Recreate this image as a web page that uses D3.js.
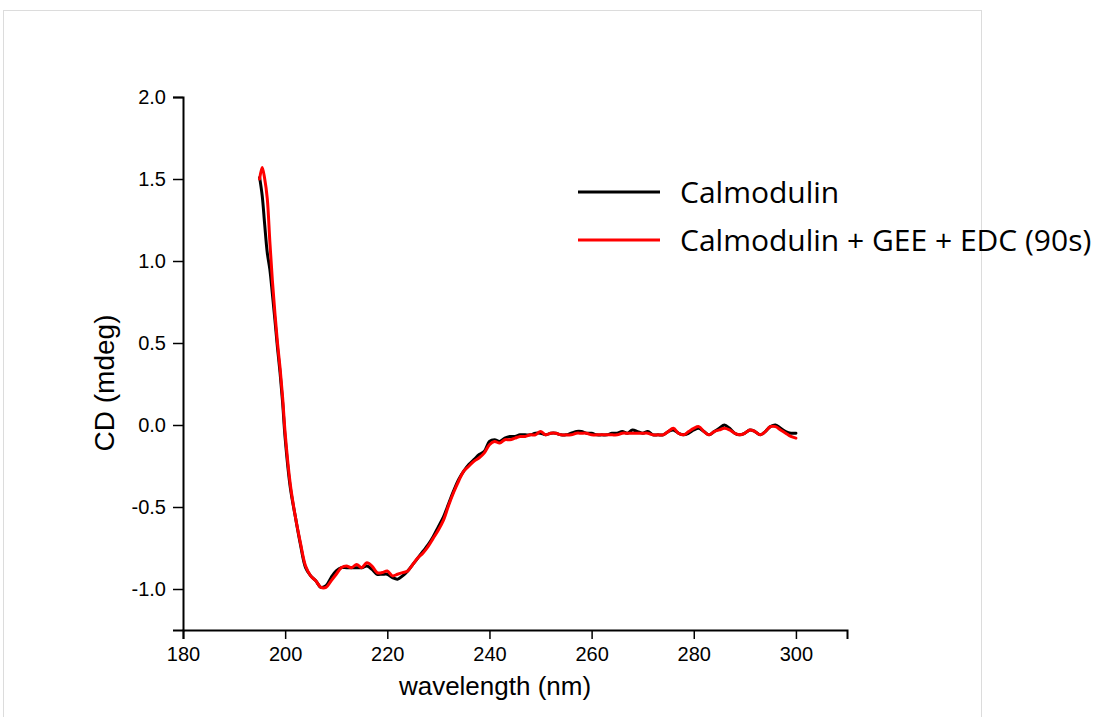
<!DOCTYPE html>
<html>
<head>
<meta charset="utf-8">
<script src="https://cdn.jsdelivr.net/npm/d3@7"></script>
<style>
  html, body { margin: 0; padding: 0; background: #fff; }
  svg { display: block; }
</style>
</head>
<body>
<svg id="chart" width="1094" height="717"></svg>
<script>
// CD spectra of calmodulin, with and without GEE + EDC treatment (90 s)
const wavelength = [
  195, 195.5, 196, 196.5, 197, 197.5, 198, 198.5, 199, 199.5,
  200, 201, 202, 203, 204, 205, 206, 207, 208, 209,
  210, 211, 212, 213, 214, 215, 216, 217, 218, 219,
  220, 221, 222, 223, 224, 225, 226, 227, 228, 229,
  230, 231, 232, 233, 234, 235, 236, 237, 238, 239,
  240, 241, 242, 243, 244, 245, 246, 247, 248, 249,
  250, 251, 252, 253, 254, 255, 256, 257, 258, 259,
  260, 261, 262, 263, 264, 265, 266, 267, 268, 269,
  270, 271, 272, 273, 274, 275, 276, 277, 278, 279,
  280, 281, 282, 283, 284, 285, 286, 287, 288, 289,
  290, 291, 292, 293, 294, 295, 296, 297, 298, 299, 300
];

const calmodulin = [
  1.51, 1.40, 1.22, 1.05, 0.95, 0.80, 0.64, 0.47, 0.32, 0.14,
  -0.08, -0.38, -0.56, -0.73, -0.87, -0.92, -0.95, -0.99, -0.98, -0.93,
  -0.89, -0.87, -0.87, -0.87, -0.87, -0.87, -0.86, -0.88, -0.91, -0.91,
  -0.91, -0.93, -0.94, -0.92, -0.89, -0.85, -0.81, -0.77, -0.73, -0.68,
  -0.62, -0.56, -0.48, -0.40, -0.33, -0.28, -0.24, -0.21, -0.18, -0.16,
  -0.10, -0.09, -0.10, -0.08, -0.07, -0.07, -0.06, -0.06, -0.06, -0.05,
  -0.05, -0.06, -0.05, -0.05, -0.06, -0.06, -0.05, -0.04, -0.04, -0.05,
  -0.05, -0.06, -0.06, -0.06, -0.05, -0.05, -0.04, -0.05, -0.03, -0.04,
  -0.05, -0.04, -0.06, -0.06, -0.06, -0.04, -0.03, -0.05, -0.06, -0.05,
  -0.03, -0.02, -0.04, -0.06, -0.04, -0.02, 0.00, -0.02, -0.05, -0.06,
  -0.05, -0.03, -0.04, -0.06, -0.04, -0.01, 0.00, -0.02, -0.04, -0.05, -0.05
];

const calmodulinGeeEdc = [
  1.50, 1.57, 1.50, 1.38, 1.12, 0.88, 0.68, 0.50, 0.35, 0.17,
  -0.05, -0.36, -0.56, -0.72, -0.86, -0.92, -0.95, -0.99, -0.99, -0.95,
  -0.91, -0.87, -0.86, -0.87, -0.85, -0.87, -0.84, -0.86, -0.90, -0.90,
  -0.89, -0.92, -0.91, -0.90, -0.89, -0.85, -0.81, -0.78, -0.74, -0.69,
  -0.64, -0.58, -0.49, -0.41, -0.34, -0.28, -0.25, -0.22, -0.20, -0.17,
  -0.12, -0.10, -0.11, -0.09, -0.09, -0.08, -0.07, -0.07, -0.06, -0.06,
  -0.04, -0.06, -0.05, -0.05, -0.06, -0.06, -0.06, -0.05, -0.05, -0.05,
  -0.06, -0.06, -0.06, -0.06, -0.06, -0.06, -0.05, -0.05, -0.05, -0.05,
  -0.05, -0.05, -0.06, -0.06, -0.06, -0.04, -0.02, -0.05, -0.06, -0.04,
  -0.02, -0.01, -0.04, -0.06, -0.04, -0.03, -0.02, -0.03, -0.05, -0.06,
  -0.05, -0.03, -0.04, -0.06, -0.04, -0.01, -0.01, -0.03, -0.05, -0.07, -0.08
];

const seriesNames = ["Calmodulin", "Calmodulin + GEE + EDC (90s)"];
const seriesColors = ["#000000", "#ff0000"];
const xTickValues = [180, 200, 220, 240, 260, 280, 300];
const yTickValues = [-1.0, -0.5, 0.0, 0.5, 1.0, 1.5, 2.0];
const xLabel = "wavelength (nm)";
const yLabel = "CD (mdeg)";

const svg = d3.select("#chart");

// light page frame
svg.append("rect")
  .attr("x", 3.5).attr("y", 10.5)
  .attr("width", 978).attr("height", 720)
  .attr("fill", "#fff").attr("stroke", "#dcdcdc").attr("stroke-width", 1);

const x = d3.scaleLinear().domain([180, 310]).range([183, 847]);
const y = d3.scaleLinear().domain([-1.25, 2.0]).range([630, 97]);

const tickFont = "'Liberation Sans', Arial, sans-serif";

// x axis: labelled major ticks and unlabelled minor ticks
const xMinor = d3.range(190, 311, 20);
const gx = svg.append("g").attr("transform", `translate(0,${y(-1.25)})`);
gx.call(d3.axisBottom(x).tickValues(xMinor).tickSize(5).tickFormat(""));
gx.call(d3.axisBottom(x).tickValues(xTickValues).tickSize(9).tickPadding(8)
  .tickFormat(d3.format("d")));
gx.selectAll("path.domain").attr("stroke-width", 2);
gx.selectAll(".tick line").attr("stroke-width", 1.5);
gx.selectAll("text").attr("font-family", tickFont).attr("font-size", 20).attr("fill", "#000");

// y axis
const yMinor = d3.range(-1.25, 2.01, 0.5);
const gy = svg.append("g").attr("transform", `translate(${x(180)},0)`);
gy.call(d3.axisLeft(y).tickValues(yMinor).tickSize(5).tickFormat(""));
gy.call(d3.axisLeft(y).tickValues(yTickValues).tickSize(10).tickPadding(7)
  .tickFormat(v => v.toFixed(1)));
gy.selectAll("path.domain").attr("stroke-width", 2);
gy.selectAll(".tick line").attr("stroke-width", 1.5);
gy.selectAll("text").attr("font-family", tickFont).attr("font-size", 20).attr("fill", "#000");

// axis titles
svg.append("text")
  .attr("x", 495).attr("y", 695)
  .attr("text-anchor", "middle")
  .attr("font-family", tickFont).attr("font-size", 26)
  .text(xLabel);

svg.append("text")
  .attr("transform", `translate(114,383) rotate(-90)`)
  .attr("text-anchor", "middle")
  .attr("font-family", tickFont).attr("font-size", 28)
  .text(yLabel);

// spectra
const line = d3.line()
  .x(d => x(d[0]))
  .y(d => y(d[1]))
  .curve(d3.curveCatmullRom.alpha(0.5));

[calmodulin, calmodulinGeeEdc].forEach((vals, i) => {
  svg.append("path")
    .datum(wavelength.map((w, j) => [w, vals[j]]))
    .attr("fill", "none")
    .attr("stroke", seriesColors[i])
    .attr("stroke-width", 3)
    .attr("stroke-linejoin", "round")
    .attr("stroke-linecap", "round")
    .attr("d", line);
});

// legend
const legendFont = "'Open Sans', 'Noto Sans', sans-serif";
seriesNames.forEach((name, i) => {
  const ly = 192 + i * 48;
  svg.append("line")
    .attr("x1", 578).attr("x2", 660)
    .attr("y1", ly).attr("y2", ly)
    .attr("stroke", seriesColors[i]).attr("stroke-width", 3);
  svg.append("text")
    .attr("x", 680).attr("y", ly)
    .attr("dy", "0.35em")
    .attr("font-family", legendFont).attr("font-size", 30)
    .attr("fill", "#000")
    .text(name);
});
</script>
</body>
</html>
